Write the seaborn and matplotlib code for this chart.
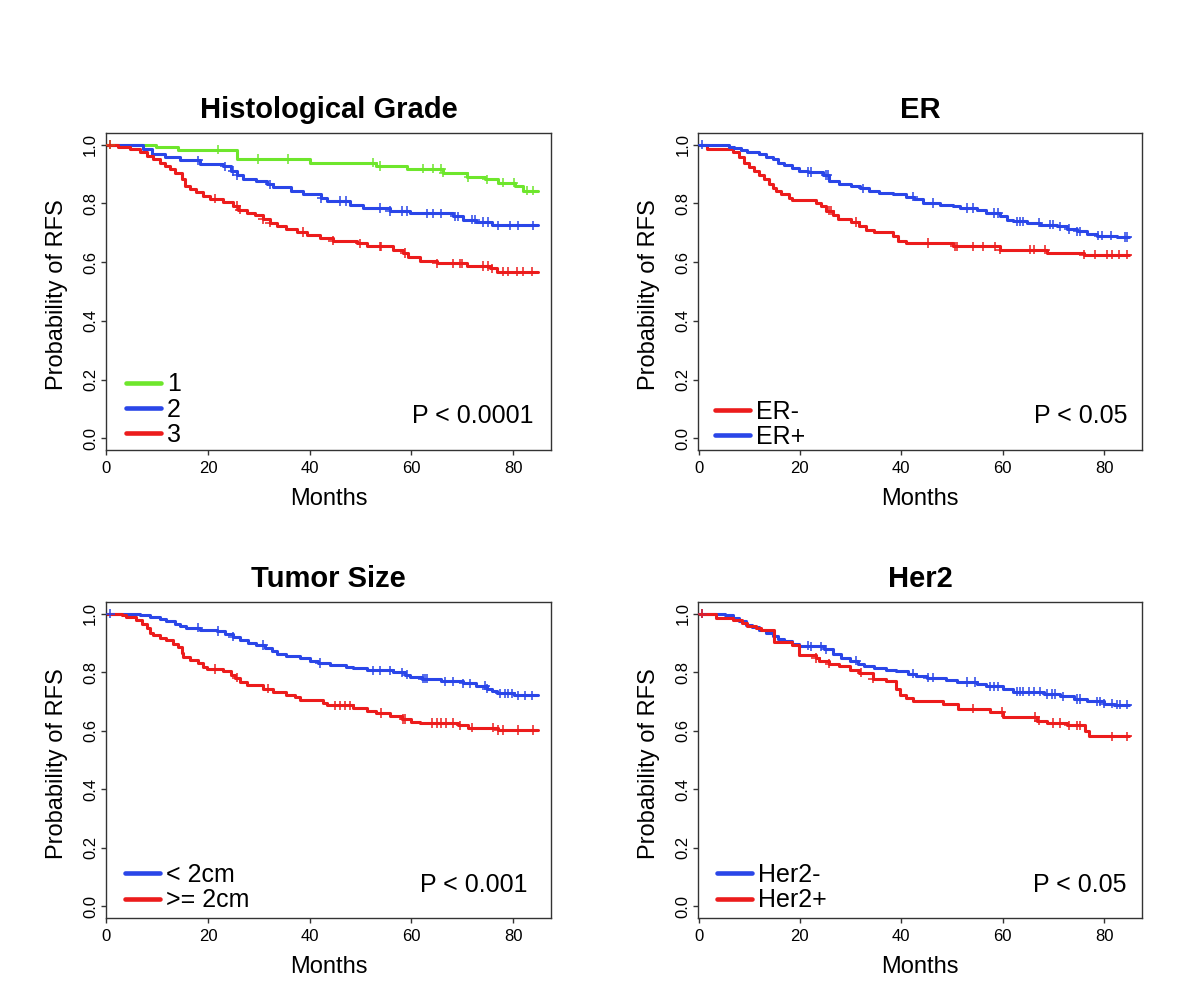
import numpy as np
import pandas as pd
import matplotlib
matplotlib.use("Agg")
import matplotlib.pyplot as plt
from matplotlib.lines import Line2D
import seaborn as sns

# Kaplan-Meier curves: step times (months) and survival after each step,
# plus censoring times. Every curve is followed up to about 85 months.
END_MONTH = 85

# --- Histological grade ---
g1_time = [0, 9.8, 14.1, 25.6, 40.0, 53.0, 59.1, 66.3, 70.9, 74.5, 77.1, 80.4, 82.0]
g1_surv = [1, .991, .983, .951, .939, .928, .919, .905, .890, .882, .871, .859, .844]
g1_cens = [0.7, 22.0, 29.9, 35.8, 52.5, 53.8, 62.3, 64.3, 65.9, 66.3, 71.2, 74.8, 78.1, 80.1, 82.7, 84.0]

g2_time = [0, 7.2, 8.9, 11.5, 14.4, 18.4, 23.0, 24.6, 25.6, 26.9, 29.5, 31.5, 32.8, 36.4, 38.7, 42.3,
           43.3, 47.9, 50.5, 55.8, 59.7, 68.2, 70.2, 72.8, 75.8]
g2_surv = [1, .985, .968, .959, .947, .936, .926, .911, .897, .885, .877, .865, .857, .844, .833, .819,
           .808, .796, .785, .774, .766, .756, .745, .737, .726]
g2_cens = [18.0, 23.3, 24.9, 25.6, 32.2, 42.3, 45.9, 47.2, 53.8, 55.8, 58.1, 59.1, 63.0, 64.3, 65.9,
           68.6, 69.2, 71.9, 72.5, 74.1, 75.1, 77.1, 79.4, 81.0, 84.0]

g3_time = [0, 2.3, 4.6, 6.6, 7.9, 9.2, 10.5, 11.5, 12.5, 13.5, 14.8, 15.4, 16.4, 17.7, 19.0, 20.3,
           23.0, 24.9, 25.9, 27.6, 29.2, 30.8, 32.2, 33.5, 35.4, 37.4, 39.4, 42.0, 44.6, 49.2, 51.2,
           56.4, 58.4, 59.4, 61.7, 65.0, 70.9, 75.5, 76.8]
g3_surv = [1, .994, .985, .974, .962, .951, .939, .928, .917, .903, .882, .859, .850, .840, .825, .816,
           .804, .791, .779, .768, .759, .747, .734, .724, .714, .703, .694, .684, .673, .664, .654,
           .642, .631, .616, .604, .596, .587, .579, .568]
g3_cens = [0.7, 21.3, 25.6, 26.2, 30.8, 32.2, 38.7, 44.6, 49.9, 53.8, 54.1, 58.7, 65.0, 68.2, 69.6,
           69.9, 74.1, 75.1, 75.8, 78.1, 79.1, 80.7, 82.0, 83.7]

# --- ER ---
erneg_time = [0, 1.7, 6.7, 8.0, 9.0, 10.0, 11.0, 11.9, 12.9, 13.9, 14.6, 15.2, 16.2, 17.9, 18.5, 23.2,
              24.2, 25.1, 26.5, 27.5, 30.1, 31.7, 33.1, 34.7, 38.4, 39.3, 41.0, 50.2, 59.5, 68.7, 76.0]
erneg_surv = [1, .985, .974, .957, .939, .925, .911, .897, .882, .867, .854, .842, .831, .819, .811, .802,
              .791, .776, .762, .748, .737, .722, .711, .703, .688, .673, .665, .654, .642, .631, .625]
erneg_cens = [25.8, 26.1, 31.1, 45.3, 50.6, 50.9, 54.2, 56.2, 58.5, 59.5, 65.4, 66.1, 68.4, 76.0,
              78.3, 80.6, 81.6, 82.9, 84.6]

erpos_time = [0, 6.0, 7.0, 8.3, 9.6, 11.9, 13.3, 14.6, 15.6, 16.9, 18.5, 19.9, 21.5, 24.5, 25.8, 27.8,
              30.1, 31.8, 33.7, 35.7, 38.4, 41.0, 42.6, 44.3, 47.6, 50.2, 51.6, 54.9, 56.8, 59.5, 60.8,
              62.1, 64.8, 67.4, 70.7, 72.7, 74.7, 76.6, 78.6, 82.6]
erpos_surv = [1, .994, .989, .982, .974, .968, .960, .951, .939, .931, .922, .911, .907, .897, .877, .867,
              .859, .851, .844, .836, .831, .823, .814, .802, .796, .791, .785, .777, .768, .756, .745,
              .739, .734, .728, .722, .713, .705, .697, .690, .686]
erpos_cens = [0.7, 21.5, 22.2, 25.1, 25.5, 32.4, 42.3, 46.3, 52.9, 54.2, 58.2, 59.1, 62.8, 63.4, 64.1,
              67.1, 69.4, 70.0, 71.4, 73.0, 74.7, 75.3, 78.9, 79.6, 81.3, 84.2, 84.6]

# --- Tumor size ---
small_time = [0, 6.6, 8.5, 10.5, 11.8, 13.5, 14.4, 15.7, 18.4, 21.7, 23.3, 24.9, 26.2, 27.9, 29.5, 31.2,
              32.5, 33.5, 35.4, 38.1, 40.0, 41.7, 44.0, 47.2, 48.6, 51.2, 56.4, 58.7, 59.7, 62.0, 65.9,
              70.2, 72.8, 74.8, 75.8, 76.8, 80.1]
small_surv = [1, .994, .989, .981, .975, .966, .958, .952, .946, .941, .931, .921, .909, .901, .893, .883,
              .872, .863, .857, .849, .840, .832, .824, .817, .813, .806, .800, .792, .783, .778, .769,
              .762, .754, .744, .735, .728, .721]
small_cens = [0.7, 18.0, 22.0, 24.9, 30.8, 42.0, 52.5, 53.8, 55.8, 58.1, 59.1, 62.3, 62.7, 63.0, 66.6,
              68.2, 70.2, 71.5, 74.5, 74.8, 77.4, 78.4, 79.1, 79.7, 81.0, 82.3, 83.7]

large_time = [0, 3.0, 3.9, 5.9, 6.9, 7.9, 8.5, 9.2, 10.5, 11.8, 13.1, 14.1, 14.8, 15.1, 16.4, 18.0,
              19.0, 19.7, 23.0, 24.6, 25.3, 26.2, 27.6, 30.8, 32.8, 35.4, 37.1, 38.1, 42.7, 43.3, 48.6,
              51.2, 53.1, 55.8, 58.1, 60.0, 61.7, 69.2, 71.2, 77.1]
large_surv = [1, .994, .989, .977, .966, .952, .935, .926, .918, .909, .898, .886, .866, .851, .843, .832,
              .818, .811, .803, .792, .781, .767, .755, .744, .733, .723, .714, .704, .695, .687, .678,
              .669, .661, .649, .640, .630, .626, .618, .611, .603]
large_cens = [21.3, 25.6, 31.8, 44.9, 45.9, 46.9, 47.9, 54.1, 58.4, 58.7, 64.0, 65.0, 65.9, 66.9, 68.2,
              69.6, 71.9, 76.1, 77.1, 78.1, 81.0, 84.0]

# --- Her2 ---
hneg_time = [0, 5.3, 6.7, 8.0, 9.3, 10.6, 11.9, 13.3, 14.6, 15.6, 16.9, 18.5, 19.9, 21.8, 24.8, 26.5,
             28.1, 29.8, 31.4, 32.7, 34.7, 37.0, 39.0, 41.3, 43.0, 45.0, 48.9, 50.9, 54.9, 56.8, 60.1,
             62.1, 68.1, 71.4, 74.0, 76.6, 79.9, 81.9]
hneg_surv = [1, .994, .986, .975, .963, .954, .946, .935, .923, .914, .906, .897, .891, .889, .878, .861,
             .849, .840, .829, .821, .815, .809, .803, .795, .786, .781, .775, .767, .760, .752, .741,
             .733, .726, .718, .709, .701, .693, .689]
hneg_cens = [0.7, 21.5, 22.2, 24.2, 25.1, 31.1, 42.3, 45.3, 46.3, 52.9, 54.5, 57.5, 58.2, 59.1, 62.8,
             63.4, 64.1, 65.1, 66.1, 67.4, 68.7, 69.7, 70.4, 72.0, 74.7, 75.3, 78.6, 79.3, 79.9, 81.6,
             82.6, 83.2, 84.6]

hpos_time = [0, 3.4, 6.7, 8.6, 9.6, 11.3, 12.3, 14.9, 18.5, 19.9, 23.2, 23.8, 25.8, 27.8, 29.8, 31.7,
             34.4, 37.0, 39.0, 39.7, 41.0, 42.3, 48.3, 51.2, 57.5, 60.1, 66.7, 68.7, 72.7, 76.3, 77.0]
hpos_surv = [1, .986, .978, .969, .958, .950, .943, .904, .893, .858, .849, .838, .829, .821, .809, .798,
             .778, .769, .741, .723, .712, .703, .691, .675, .664, .647, .634, .626, .618, .598, .581]
hpos_cens = [0.7, 23.2, 25.8, 32.1, 34.4, 54.2, 59.8, 66.4, 67.1, 70.0, 71.4, 73.0, 74.7, 75.3, 81.6, 84.6]

RED = "#ec1c1c"
BLUE = "#2a46e8"
GREEN = "#6ee62c"

sns.set_style("white")
plt.rcParams['font.family'] = ['Liberation Sans', 'DejaVu Sans']
plt.rcParams['text.color'] = 'black'
plt.rcParams['axes.labelcolor'] = 'black'


def km_frame(time, surv, label):
    # extend the last step to the end of follow-up
    return pd.DataFrame({'Months': list(time) + [END_MONTH],
                         'surv': list(surv) + [surv[-1]],
                         'group': label})


def censor_frame(time, surv, cens, label):
    idx = np.searchsorted(time, cens, side='right') - 1
    return pd.DataFrame({'Months': cens, 'surv': np.asarray(surv)[idx], 'group': label})


def km_panel(ax, title, curves, legend_order, pval, p_xy, leg_xy):
    palette = {lab: col for lab, col, *_ in curves}
    order = [c[0] for c in curves]
    lines = pd.concat([km_frame(t, s, lab) for lab, col, t, s, c in curves])
    marks = pd.concat([censor_frame(t, s, c, lab) for lab, col, t, s, c in curves])
    sns.lineplot(data=lines, x='Months', y='surv', hue='group', hue_order=order, palette=palette,
                 drawstyle='steps-post', estimator=None, sort=False, lw=2.2, legend=False, ax=ax)
    sns.scatterplot(data=marks, x='Months', y='surv', hue='group', hue_order=order, palette=palette,
                    marker='+', s=45, linewidth=1.1, legend=False, ax=ax, zorder=3)

    ax.set_xlim(-0.1, 87.5)
    ax.set_ylim(-0.04, 1.04)
    ax.set_xticks([0, 20, 40, 60, 80])
    ax.set_yticks([0, 0.2, 0.4, 0.6, 0.8, 1.0])
    ax.set_yticklabels(['0.0', '0.2', '0.4', '0.6', '0.8', '1.0'], rotation=90, va='center')
    ax.tick_params(axis='both', direction='out', length=3.6, width=1, color='#333333',
                   labelcolor='black', labelsize=12)
    ax.tick_params(axis='x', pad=4, bottom=True)
    ax.tick_params(axis='y', pad=2, left=True)
    for sp in ax.spines.values():
        sp.set_color('#333333')
        sp.set_linewidth(1.0)

    ax.set_title(title, fontsize=21, fontweight='bold', pad=11)
    ax.set_xlabel('Months', fontsize=17)
    ax.set_ylabel('Probability of RFS', fontsize=17)
    ax.xaxis.set_label_coords(0.5, -0.155)
    ax.xaxis.label.set_va('center')
    ax.yaxis.set_label_coords(-0.11, 0.49)
    ax.yaxis.label.set_va('center')

    ax.text(p_xy[0], p_xy[1], pval, transform=ax.transAxes, ha='right', va='center', fontsize=18)

    handles = [Line2D([], [], color=palette[lab], lw=3.3) for lab in legend_order]
    ax.legend(handles, legend_order, loc='lower left', bbox_to_anchor=leg_xy, frameon=False,
              fontsize=18, handlelength=1.4, handletextpad=0.25, labelspacing=0.05,
              borderpad=0, borderaxespad=0)


fig = plt.figure(figsize=(12, 9.89), dpi=100)
ax1 = fig.add_axes([0.0883, 0.545, 0.371, 0.3205])
ax2 = fig.add_axes([0.5817, 0.545, 0.370, 0.3205])
ax3 = fig.add_axes([0.0883, 0.0718, 0.371, 0.3195])
ax4 = fig.add_axes([0.5817, 0.0718, 0.370, 0.3195])

km_panel(ax1, 'Histological Grade',
         [('1', GREEN, g1_time, g1_surv, g1_cens),
          ('2', BLUE, g2_time, g2_surv, g2_cens),
          ('3', RED, g3_time, g3_surv, g3_cens)],
         ['1', '2', '3'], 'P < 0.0001', (0.96, 0.106), (0.045, 0.01))

km_panel(ax2, 'ER',
         [('ER-', RED, erneg_time, erneg_surv, erneg_cens),
          ('ER+', BLUE, erpos_time, erpos_surv, erpos_cens)],
         ['ER-', 'ER+'], 'P < 0.05', (0.968, 0.106), (0.038, 0.003))

km_panel(ax3, 'Tumor Size',
         [('< 2cm', BLUE, small_time, small_surv, small_cens),
          ('>= 2cm', RED, large_time, large_surv, large_cens)],
         ['< 2cm', '>= 2cm'], 'P < 0.001', (0.946, 0.104), (0.043, 0.018))

km_panel(ax4, 'Her2',
         [('Her2-', BLUE, hneg_time, hneg_surv, hneg_cens),
          ('Her2+', RED, hpos_time, hpos_surv, hpos_cens)],
         ['Her2-', 'Her2+'], 'P < 0.05', (0.966, 0.104), (0.042, 0.018))

fig.savefig('out.png', dpi=100, facecolor='white')
